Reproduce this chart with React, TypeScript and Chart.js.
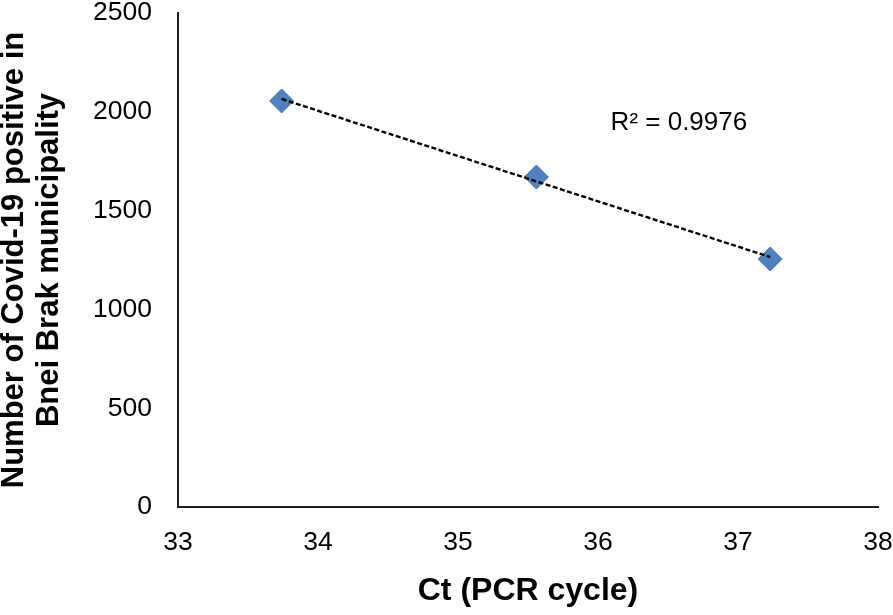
import React, { useEffect, useRef } from "react";
import { Chart, registerables } from "chart.js";

Chart.register(...registerables);

// Data
const ctValues = [33.74, 35.56, 37.23];
const positiveCounts = [2055, 1670, 1255];
const trendX = [33.74, 37.23];
const trendY = [2065, 1265];
const rSquaredLabel = "R² = 0.9976";
const xTitle = "Ct (PCR cycle)";
const yTitleLines = ["Number of Covid-19 positive in", "Bnei Brak municipality"];

const FONT = "'Liberation Sans', Arial, sans-serif";

export default function App() {
  const canvasRef = useRef<HTMLCanvasElement | null>(null);

  useEffect(() => {
    document.body.style.margin = "0";
    const canvas = canvasRef.current;
    if (!canvas) return;

    const annotationPlugin = {
      id: "rsq",
      afterDatasetsDraw(chart: any) {
        const { ctx, scales } = chart;
        const px = scales.x.getPixelForValue(36.09);
        const py = scales.y.getPixelForValue(1908);
        ctx.save();
        ctx.font = `26px ${FONT}`;
        ctx.fillStyle = "#000";
        ctx.textAlign = "left";
        ctx.textBaseline = "alphabetic";
        ctx.fillText(rSquaredLabel, px, py);
        ctx.restore();
      },
    };

    const chart = new Chart(canvas, {
      type: "scatter",
      data: {
        datasets: [
          {
            type: "line",
            label: "Trend",
            data: trendX.map((x, i) => ({ x, y: trendY[i] })),
            borderColor: "#000",
            borderWidth: 2.4,
            borderDash: [5, 2.5],
            pointRadius: 0,
            fill: false,
            order: 0,
          } as any,
          {
            label: "Data",
            data: ctValues.map((x, i) => ({ x, y: positiveCounts[i] })),
            pointStyle: "rectRot",
            pointRadius: 12,
            pointHoverRadius: 12,
            backgroundColor: "#4F81BD",
            borderColor: "#4575AE",
            borderWidth: 1,
            order: 1,
          },
        ],
      },
      options: {
        animation: false,
        responsive: false,
        maintainAspectRatio: false,
        layout: { padding: { top: 13, right: 15, left: 0, bottom: 0 } },
        plugins: {
          legend: { display: false },
          tooltip: { enabled: false },
        },
        scales: {
          x: {
            type: "linear",
            min: 33,
            max: 38,
            ticks: {
              stepSize: 1,
              color: "#000",
              padding: 13,
              font: { family: FONT, size: 26.5, lineHeight: 1.1 },
              callback: (v: any) => String(v),
            },
            grid: { display: false },
            border: { display: true, color: "#1e1e1e", width: 2 },
            title: {
              display: true,
              text: xTitle,
              color: "#000",
              font: { family: FONT, size: 32, weight: "bold", lineHeight: 1.2 },
              padding: { top: 0, bottom: 5 },
            },
            afterFit(scale: any) {
              scale.height = 108;
              scale.paddingLeft = 0;
              scale.paddingRight = 0;
            },
          },
          y: {
            type: "linear",
            min: 0,
            max: 2500,
            ticks: {
              stepSize: 500,
              color: "#000",
              padding: 18,
              font: { family: FONT, size: 26.5, lineHeight: 1.1 },
              callback: (v: any) => String(v),
            },
            grid: { display: false },
            border: { display: true, color: "#1e1e1e", width: 2 },
            title: {
              display: true,
              text: yTitleLines,
              color: "#000",
              font: { family: FONT, size: 31, weight: "bold", lineHeight: 1.12 },
              padding: { top: -3, bottom: 0 },
            },
            afterFit(scale: any) {
              scale.width = 178;
              scale.paddingTop = 0;
              scale.paddingBottom = 0;
            },
          },
        },
      },
      plugins: [annotationPlugin],
    });

    return () => chart.destroy();
  }, []);

  return (
    <div style={{ width: 893, height: 615, position: "relative", background: "#fff" }}>
      <canvas ref={canvasRef} width={893} height={615} style={{ width: 893, height: 615, display: "block" }} />
    </div>
  );
}
